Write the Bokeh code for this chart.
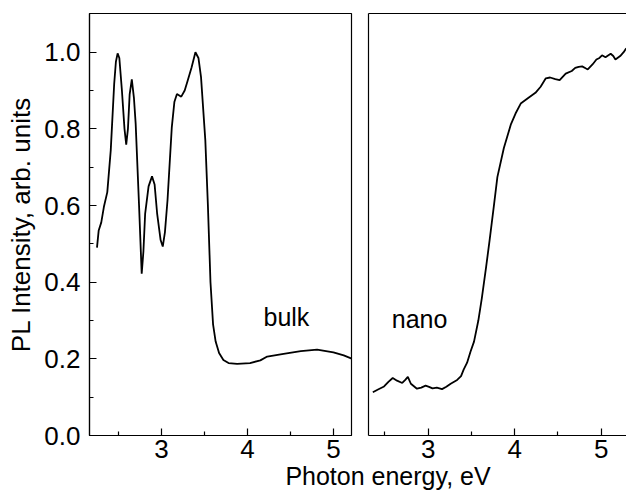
from bokeh.plotting import figure
from bokeh.models import Range1d, FixedTicker, Label, LinearAxis, PrintfTickFormatter
from bokeh.layouts import row, column
from bokeh.core.properties import value
from bokeh.embed import file_html
from bokeh.resources import INLINE

# ---- data ----
bulk_energy = [2.25, 2.27, 2.30, 2.33, 2.37, 2.41, 2.45, 2.47, 2.49, 2.51, 2.54, 2.57, 2.59,
               2.61, 2.63, 2.655, 2.68, 2.70, 2.74, 2.77, 2.79, 2.81, 2.85, 2.89, 2.92, 2.95,
               2.99, 3.015, 3.04, 3.07, 3.12, 3.15, 3.18, 3.23, 3.27, 3.30, 3.35, 3.395, 3.43,
               3.46, 3.51, 3.54, 3.57, 3.60, 3.63, 3.67, 3.72, 3.78, 3.88, 4.03, 4.15, 4.23,
               4.42, 4.62, 4.81, 5.00, 5.12, 5.22]
bulk_intensity = [0.49, 0.535, 0.556, 0.596, 0.635, 0.744, 0.917, 0.975, 0.997, 0.985, 0.90, 0.80,
                  0.759, 0.80, 0.89, 0.929, 0.88, 0.813, 0.596, 0.422, 0.48, 0.578, 0.65, 0.676,
                  0.655, 0.578, 0.51, 0.493, 0.53, 0.613, 0.804, 0.87, 0.891, 0.884, 0.90, 0.922,
                  0.96, 1.0, 0.985, 0.935, 0.77, 0.60, 0.40, 0.29, 0.245, 0.215, 0.197, 0.189,
                  0.187, 0.189, 0.196, 0.206, 0.213, 0.22, 0.224, 0.217, 0.209, 0.20]

nano_energy = [2.36, 2.42, 2.49, 2.54, 2.59, 2.64, 2.70, 2.735, 2.765, 2.80, 2.87, 2.92, 2.97,
               3.01, 3.05, 3.10, 3.16, 3.21, 3.26, 3.335, 3.38, 3.41, 3.45, 3.49, 3.53, 3.58,
               3.62, 3.67, 3.71, 3.76, 3.80, 3.875, 3.955, 4.01, 4.07, 4.16, 4.24, 4.30, 4.36,
               4.41, 4.47, 4.52, 4.59, 4.66, 4.70, 4.74, 4.78, 4.82, 4.845, 4.90, 4.945, 4.98,
               5.01, 5.05, 5.11, 5.14, 5.165, 5.22, 5.26, 5.29]
nano_intensity = [0.113, 0.12, 0.128, 0.14, 0.15, 0.143, 0.137, 0.145, 0.153, 0.135, 0.122, 0.125,
                  0.13, 0.127, 0.123, 0.125, 0.121, 0.127, 0.135, 0.145, 0.155, 0.172, 0.19, 0.219,
                  0.245, 0.30, 0.358, 0.44, 0.509, 0.60, 0.674, 0.75, 0.811, 0.84, 0.866, 0.881,
                  0.894, 0.91, 0.932, 0.934, 0.93, 0.927, 0.944, 0.951, 0.959, 0.962, 0.963, 0.958,
                  0.955, 0.968, 0.981, 0.985, 0.992, 0.987, 0.996, 0.99, 0.981, 0.99, 1.0, 1.01]

x_major_ticks = [3, 4, 5]
x_minor_ticks = [2.5, 3.5, 4.5]
y_major_ticks = [0.0, 0.2, 0.4, 0.6, 0.8, 1.0]
y_minor_ticks = [0.1, 0.3, 0.5, 0.7, 0.9]

panel_labels = ["bulk", "nano"]
panel_label_x = [4.453, 2.90]
panel_label_y = [0.308, 0.305]

x_label = "Photon energy, eV"
y_label = "PL Intensity, arb. units"

FONT = "Liberation Sans"
H = 490          # page has no body margin: use the whole 626 x 490 window
TOP = 13
FRAME_H = 422


def style_axis(ax, ticks, minor):
    ax.ticker = FixedTicker(ticks=ticks, minor_ticks=minor)
    ax.axis_line_color = "black"
    ax.axis_line_width = 1.2
    ax.major_tick_line_color = "black"
    ax.major_tick_line_width = 1.2
    ax.minor_tick_line_color = "black"
    ax.minor_tick_line_width = 1.2
    ax.major_tick_in = 7
    ax.major_tick_out = 0
    ax.minor_tick_in = 4
    ax.minor_tick_out = 0
    ax.major_label_text_font = FONT
    ax.major_label_text_font_size = "26px"
    ax.major_label_text_color = "black"
    ax.axis_label_text_font = FONT
    ax.axis_label_text_font_size = "26px"
    ax.axis_label_text_font_style = "normal"
    ax.axis_label_text_color = "black"


def bare_line_axis(ax):
    ax.ticker = FixedTicker(ticks=[], minor_ticks=[])
    ax.axis_line_color = "black"
    ax.axis_line_width = 1.2
    ax.major_tick_line_color = None
    ax.minor_tick_line_color = None
    ax.major_tick_out = 0
    ax.minor_tick_out = 0
    ax.major_label_standoff = 0


def make_panel(width, xr, border_left, border_right):
    p = figure(width=width, height=H, output_backend="svg", toolbar_location=None,
               x_range=Range1d(*xr), y_range=Range1d(0, 1.101),
               min_border_left=border_left, min_border_right=border_right,
               min_border_top=TOP, min_border_bottom=H - TOP - FRAME_H)
    p.xgrid.visible = False
    p.ygrid.visible = False
    p.background_fill_color = "white"
    p.border_fill_color = "white"
    style_axis(p.xaxis[0], x_major_ticks, x_minor_ticks)
    p.xaxis.major_label_standoff = 4
    return p


left = make_panel(359, (2.163, 5.21), 89, 8)
left.outline_line_color = "black"
left.outline_line_width = 1.2
style_axis(left.yaxis[0], y_major_ticks, y_minor_ticks)
left.yaxis.formatter = PrintfTickFormatter(format="%.1f")
left.yaxis.major_label_standoff = 9
left.yaxis.axis_label = y_label
left.yaxis.axis_label_standoff = 5
left.line(bulk_energy, bulk_intensity, line_color="black", line_width=1.8)
left.text(x=[panel_label_x[0]], y=[panel_label_y[0]], text=[panel_labels[0]],
          text_font=value(FONT), text_font_size="25px", text_color="black",
          text_align="center", text_baseline="alphabetic")

# right panel runs off the page edge: frame drawn with left/top/bottom lines only
right = make_panel(267, (2.31, 5.293), 9, 0)
right.outline_line_color = None
bare_line_axis(right.yaxis[0])
top_axis = LinearAxis()
bare_line_axis(top_axis)
right.add_layout(top_axis, "above")
right.line(nano_energy, nano_intensity, line_color="black", line_width=1.8)
right.text(x=[panel_label_x[1]], y=[panel_label_y[1]], text=[panel_labels[1]],
           text_font=value(FONT), text_font_size="25px", text_color="black",
           text_align="center", text_baseline="alphabetic")

# transparent overlay carrying the shared x-axis title
lab = figure(width=626, height=H, output_backend="svg", toolbar_location=None,
             x_range=Range1d(0, 626), y_range=Range1d(0, H),
             x_axis_type=None, y_axis_type=None,
             min_border_left=0, min_border_right=0, min_border_top=0, min_border_bottom=0)
lab.outline_line_color = None
lab.background_fill_color = None
lab.border_fill_color = None
lab.add_layout(Label(x=387.5, y=15, text=x_label, text_font=FONT, text_font_size="25px",
                     text_color="black", text_align="center", text_baseline="middle"))
lab.styles = {"position": "absolute", "left": "0px", "top": "0px"}

layout = column(row(left, right), lab, styles={"position": "relative"})

open("out.html", "w").write(file_html(layout, INLINE))
